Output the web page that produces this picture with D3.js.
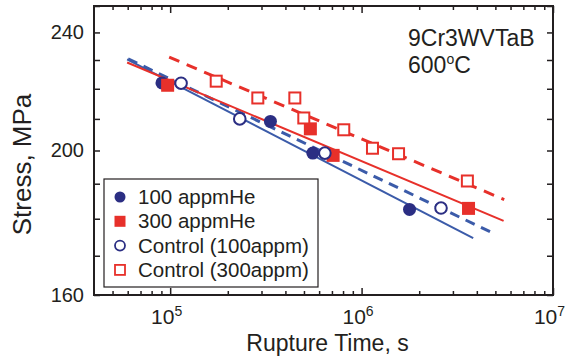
<!DOCTYPE html>
<html>
<head>
<meta charset="utf-8">
<script src="https://cdn.jsdelivr.net/npm/d3@7"></script>
<style>
  body { margin: 0; background: #fff; }
  svg { display: block; font-family: 'Liberation Sans', Arial, Helvetica, sans-serif; }
  .axis path { display: none; }
  .axis line { stroke: #231f20; stroke-width: 1.5; }
  .axis text { font-size: 20px; fill: #231f20; }
</style>
</head>
<body>
<script>
// rupture data (time in s, stress in MPa)
const he100Time = [9.06e4, 3.34e5, 5.56e5, 1.78e6]
const he100Stress = [222, 209.2, 199.2, 182.6]
const he300Time = [9.7e4, 5.4e5, 7.1e5, 3.62e6]
const he300Stress = [221.2, 206.8, 198.5, 182.9]
const ctl100Time = [1.14e5, 2.31e5, 6.43e5, 2.6e6]
const ctl100Stress = [221.9, 210, 199.2, 183]
const ctl300Time = [1.74e5, 2.87e5, 4.48e5, 4.99e5, 8.07e5, 1.14e6, 1.56e6, 3.57e6]
const ctl300Stress = [222.6, 216.9, 216.9, 210.3, 206.5, 200.7, 199, 190.8]

// fit lines (end points)
const fit100Time = [5.96e4, 3.83e6]
const fit100Stress = [230.2, 174.7]
const fitCtl100Time = [6.03e4, 4.93e6]
const fitCtl100Stress = [230.4, 175.9]
const fit300Time = [5.96e4, 5.52e6]
const fit300Stress = [229.1, 179.4]
const fitCtl300Time = [9.88e4, 5.56e6]
const fitCtl300Stress = [231.0, 185.4]

const xMajor = [1e5, 1e6, 1e7]
const xMinor = [5e4, 6e4, 7e4, 8e4, 9e4, 2e5, 3e5, 4e5, 5e5, 6e5, 7e5, 8e5, 9e5,
  2e6, 3e6, 4e6, 5e6, 6e6, 7e6, 8e6, 9e6]
const yTicks = [160, 170, 180, 190, 200, 210, 220, 230, 240, 250]
const yLabels = [160, 200, 240]

const legendNames = ['100 appmHe', '300 appmHe', 'Control (100appm)', 'Control (300appm)']

const navy = '#2b2e83'
const blue = '#3b5ba9'
const red = '#e7302a'

const W = 581, H = 358
const margin = { top: 6, right: 28, bottom: 63, left: 94 }
const width = W - margin.left - margin.right
const height = H - margin.top - margin.bottom

const svg = d3.select('body').append('svg')
  .attr('width', W)
  .attr('height', H)

const g = svg.append('g')
  .attr('transform', `translate(${margin.left}, ${margin.top})`)

const x = d3.scaleLog().domain([4e4, 1e7]).range([0, width])
const y = d3.scaleLog().domain([160, 250]).range([height, 0])

const zip = (a, b) => a.map((v, i) => [v, b[i]])

// axes: ticks on all four sides, pointing inward
g.append('g').attr('class', 'axis')
  .attr('transform', `translate(0, ${height})`)
  .call(d3.axisBottom(x).tickValues(xMinor).tickSize(-4).tickFormat(''))
g.append('g').attr('class', 'axis')
  .call(d3.axisTop(x).tickValues(xMinor).tickSize(-4).tickFormat(''))
g.append('g').attr('class', 'axis')
  .call(d3.axisTop(x).tickValues(xMajor).tickSize(-7).tickFormat(''))

const xAxis = g.append('g').attr('class', 'axis')
  .attr('transform', `translate(0, ${height})`)
  .call(d3.axisBottom(x).tickValues(xMajor).tickSize(-7).tickPadding(14).tickFormat(''))
xAxis.selectAll('text')
  .attr('dx', -4)
  .style('font-size', '21px')
  .text('10')
  .append('tspan')
    .attr('dy', -8)
    .style('font-size', '14px')
    .text(d => Math.round(Math.log10(d)))

g.append('g').attr('class', 'axis')
  .call(d3.axisLeft(y).tickValues(yTicks).tickSize(-6).tickPadding(10)
    .tickFormat(d => yLabels.includes(d) ? d : ''))
g.append('g').attr('class', 'axis')
  .attr('transform', `translate(${width}, 0)`)
  .call(d3.axisRight(y).tickValues(yTicks).tickSize(-6).tickFormat(''))

g.append('rect')
  .attr('width', width)
  .attr('height', height)
  .attr('fill', 'none')
  .attr('stroke', '#231f20')
  .attr('stroke-width', 2)

// axis titles
svg.append('text')
  .attr('x', margin.left + x(Math.sqrt(4e4 * 1e7)) + 4)
  .attr('y', 351)
  .attr('text-anchor', 'middle')
  .style('font-size', '23px')
  .style('fill', '#231f20')
  .text('Rupture Time, s')

svg.append('text')
  .attr('transform', `translate(31, ${margin.top + height / 2 + 14}) rotate(-90)`)
  .attr('text-anchor', 'middle')
  .style('font-size', '26px')
  .style('fill', '#231f20')
  .text('Stress, MPa')

// annotation
svg.append('text')
  .attr('x', 408)
  .attr('y', 46)
  .style('font-size', '23px')
  .style('fill', '#231f20')
  .text('9Cr3WVTaB')
const note2 = svg.append('text')
  .attr('x', 408)
  .attr('y', 73)
  .style('font-size', '23px')
  .style('fill', '#231f20')
note2.append('tspan').text('600')
note2.append('tspan').attr('dy', -9).style('font-size', '14px').text('o')
note2.append('tspan').attr('dy', 9).text('C')

// fit lines
const line = d3.line().x(d => x(d[0])).y(d => y(d[1]))
const fits = [
  { t: fit100Time, s: fit100Stress, color: blue, dash: null, w: 2 },
  { t: fitCtl100Time, s: fitCtl100Stress, color: blue, dash: '10,7', w: 3 },
  { t: fit300Time, s: fit300Stress, color: red, dash: null, w: 2 },
  { t: fitCtl300Time, s: fitCtl300Stress, color: red, dash: '11,8', w: 3 }
]
g.selectAll('.fit')
  .data(fits)
  .enter().append('path')
  .attr('class', 'fit')
  .attr('d', d => line(zip(d.t, d.s)))
  .style('fill', 'none')
  .style('stroke', d => d.color)
  .style('stroke-width', d => d.w)
  .style('stroke-dasharray', d => d.dash)

// markers
g.selectAll('.he100')
  .data(zip(he100Time, he100Stress))
  .enter().append('circle')
  .attr('class', 'he100')
  .attr('cx', d => x(d[0]))
  .attr('cy', d => y(d[1]))
  .attr('r', 6.5)
  .style('fill', navy)

g.selectAll('.he300')
  .data(zip(he300Time, he300Stress))
  .enter().append('rect')
  .attr('class', 'he300')
  .attr('x', d => x(d[0]) - 6.5)
  .attr('y', d => y(d[1]) - 6.5)
  .attr('width', 13)
  .attr('height', 13)
  .style('fill', red)

g.selectAll('.ctl100')
  .data(zip(ctl100Time, ctl100Stress))
  .enter().append('circle')
  .attr('class', 'ctl100')
  .attr('cx', d => x(d[0]))
  .attr('cy', d => y(d[1]))
  .attr('r', 5.8)
  .style('fill', '#fff')
  .style('stroke', navy)
  .style('stroke-width', 2)

g.selectAll('.ctl300')
  .data(zip(ctl300Time, ctl300Stress))
  .enter().append('rect')
  .attr('class', 'ctl300')
  .attr('x', d => x(d[0]) - 5.5)
  .attr('y', d => y(d[1]) - 5.5)
  .attr('width', 11)
  .attr('height', 11)
  .style('fill', '#fff')
  .style('stroke', red)
  .style('stroke-width', 2)

// legend
const legend = svg.append('g').attr('transform', 'translate(104, 179)')
legend.append('rect')
  .attr('width', 214)
  .attr('height', 108)
  .attr('fill', '#fff')
  .attr('stroke', '#231f20')
  .attr('stroke-width', 1.2)

const rows = legend.selectAll('.row')
  .data(legendNames)
  .enter().append('g')
  .attr('class', 'row')
  .attr('transform', (d, i) => `translate(16, ${18 + i * 24.3})`)

rows.append('text')
  .attr('x', 18)
  .attr('dy', '0.35em')
  .style('font-size', '20.5px')
  .style('fill', '#231f20')
  .text(d => d)

rows.filter((d, i) => i === 0).append('circle').attr('r', 5.5).style('fill', navy)
rows.filter((d, i) => i === 1).append('rect')
  .attr('x', -5.5).attr('y', -5.5).attr('width', 11).attr('height', 11).style('fill', red)
rows.filter((d, i) => i === 2).append('circle').attr('r', 5)
  .style('fill', '#fff').style('stroke', navy).style('stroke-width', 1.8)
rows.filter((d, i) => i === 3).append('rect')
  .attr('x', -5).attr('y', -5).attr('width', 10).attr('height', 10)
  .style('fill', '#fff').style('stroke', red).style('stroke-width', 1.8)
</script>
</body>
</html>
